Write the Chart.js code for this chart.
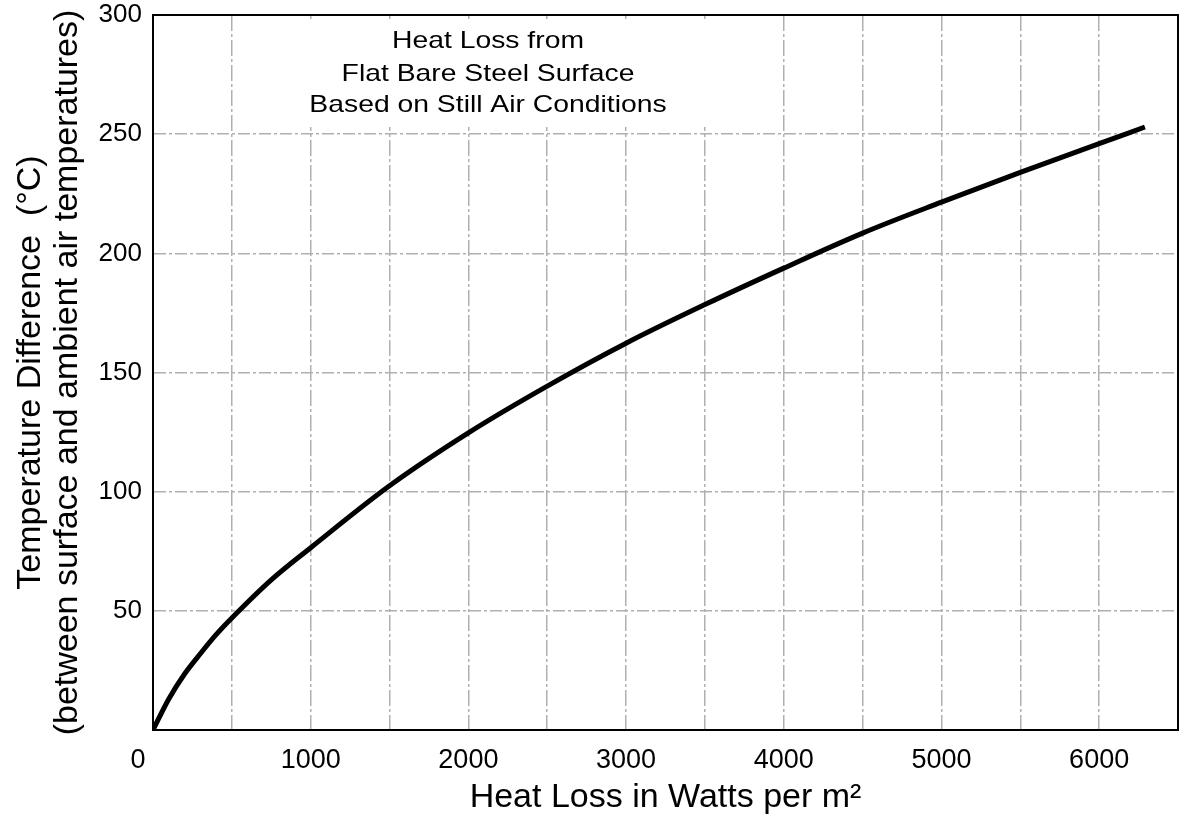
<!DOCTYPE html>
<html>
<head>
<meta charset="utf-8">
<title>Heat Loss from Flat Bare Steel Surface</title>
<script src="https://cdn.jsdelivr.net/npm/chart.js@4.4.0/dist/chart.umd.min.js"></script>
<style>
  html, body { margin: 0; padding: 0; background: #fff; }
  #wrap { width: 1185px; height: 822px; }
</style>
</head>
<body>
<div id="wrap"><canvas id="heatChart" width="1185" height="822"></canvas></div>
<script>
// Values
const heatLoss = [0, 100, 200, 300, 400, 500, 750, 1000, 1500, 2000, 2500, 3000, 3500, 4000, 4500, 5000, 5500, 6000, 6290];
const tempDiff = [0, 13, 23.5, 32, 40, 47, 63, 76.5, 102.5, 124.7, 144.3, 162.3, 178.5, 193.8, 208.5, 221.5, 234, 246, 253];

const xLabelTicks = [0, 1000, 2000, 3000, 4000, 5000, 6000];
const yLabelTicks = [50, 100, 150, 200, 250, 300];

const titleLines = ['Heat Loss from', 'Flat Bare Steel Surface', 'Based on Still Air Conditions'];
const xAxisTitle = 'Heat Loss in Watts per m\u00B2';
const yAxisTitle = ['Temperature Difference  (\u00B0C)', '(between surface and ambient air temperatures)'];

const FONT = '"Liberation Sans", Arial, Helvetica, sans-serif';
const GRID_COLOR = '#b0b0b0';

// Boxed title inside the plot, covering the grid behind it
const plotTitle = {
  id: 'plotTitle',
  beforeDatasetsDraw(chart) {
    const ctx = chart.ctx;
    ctx.save();
    ctx.fillStyle = '#fff';
    ctx.fillRect(300, 19, 415, 108);
    ctx.fillStyle = '#000';
    ctx.font = '24px ' + FONT;
    ctx.textAlign = 'center';
    ctx.textBaseline = 'alphabetic';
    const baselines = [48, 81, 112];
    titleLines.forEach((line, i) => {
      ctx.save();
      ctx.translate(488, baselines[i]);
      ctx.scale(1.18, 1);
      ctx.fillText(line, 0, 0);
      ctx.restore();
    });
    ctx.restore();
  }
};

// Black frame round the plot area
const frame = {
  id: 'frame',
  afterDraw(chart) {
    const {ctx, chartArea: a} = chart;
    ctx.save();
    ctx.strokeStyle = '#000';
    ctx.lineWidth = 2;
    ctx.strokeRect(a.left, a.top, a.right - a.left, a.bottom - a.top);
    ctx.restore();
  }
};

function initChart() {
  const ctx = document.getElementById('heatChart').getContext('2d');
  new Chart(ctx, {
    type: 'scatter',
    data: {
      datasets: [{
        label: 'Heat loss',
        data: heatLoss.map((x, i) => ({x: x, y: tempDiff[i]})),
        showLine: true,
        borderColor: '#000',
        borderWidth: 5,
        pointRadius: 0,
        fill: false,
        cubicInterpolationMode: 'monotone'
      }]
    },
    options: {
      responsive: false,
      animation: false,
      layout: {
        padding: {top: 15, right: 7, left: 0, bottom: 0}
      },
      plugins: {
        legend: {display: false},
        tooltip: {enabled: false}
      },
      scales: {
        x: {
          type: 'linear',
          min: 0,
          max: 6500,
          afterFit(scale) {
            scale.height = 92;
            scale.paddingLeft = 0;
            scale.paddingRight = 0;
          },
          grid: {
            color: GRID_COLOR,
            lineWidth: 1.5,
            drawTicks: false
          },
          border: {display: true, color: '#000', width: 2, dash: [16, 3, 3, 3]},
          ticks: {
            stepSize: 500,
            autoSkip: false,
            maxRotation: 0,
            padding: 14,
            color: '#000',
            font: {family: FONT, size: 27},
            callback: (v) => {
              if (!xLabelTicks.includes(v)) return '';
              return v === 0 ? '0    ' : String(v);
            }
          },
          title: {
            display: true,
            text: xAxisTitle,
            color: '#000',
            font: {family: FONT, size: 34},
            padding: {top: 0, bottom: 4}
          }
        },
        y: {
          type: 'linear',
          min: 0,
          max: 300,
          afterFit(scale) {
            scale.width = 153;
            scale.paddingTop = 0;
            scale.paddingBottom = 0;
          },
          grid: {
            color: GRID_COLOR,
            lineWidth: 1.5,
            drawTicks: false
          },
          border: {display: true, color: '#000', width: 2, dash: [12, 3, 3, 3]},
          ticks: {
            stepSize: 50,
            padding: 11,
            color: '#000',
            font: {family: FONT, size: 26},
            callback: (v) => yLabelTicks.includes(v) ? String(v) : ''
          },
          title: {
            display: true,
            text: yAxisTitle,
            color: '#000',
            font: {family: FONT, size: 34, lineHeight: 1.1},
            padding: {top: 12, bottom: 0}
          }
        }
      }
    },
    plugins: [plotTitle, frame]
  });
}

document.addEventListener('DOMContentLoaded', initChart);
</script>
</body>
</html>
